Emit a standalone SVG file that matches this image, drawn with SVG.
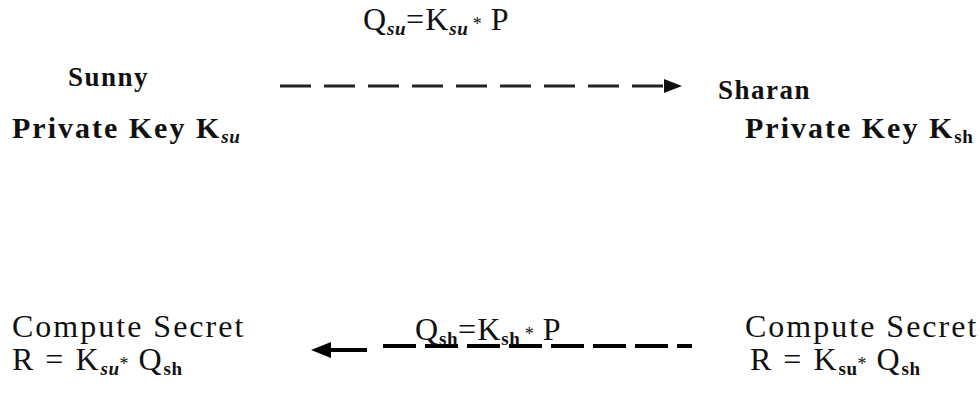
<svg xmlns="http://www.w3.org/2000/svg" width="980" height="403" viewBox="0 0 980 403">
<style>
text{font-family:"Liberation Serif","Times New Roman",serif;fill:#111}
.b{font-weight:bold}
.name{font-size:27px;font-weight:bold;letter-spacing:1.5px}
.lbl{font-size:30px;font-weight:bold;letter-spacing:2px}
.eq{font-size:32px;letter-spacing:1px}
.big{font-size:32px;letter-spacing:2px}
.sub{font-size:19px;font-weight:bold;letter-spacing:0.5px}
.st{font-size:18px;letter-spacing:0}
.it{font-style:italic}
.dash{fill:none;stroke:#222;stroke-width:3}
.dash2{fill:none;stroke:#000;stroke-width:4}
</style>
<rect width="980" height="403" fill="#fff"/>
<g id="sunny">
<text x="68" y="86" class="name">Sunny</text>
<text x="12" y="138" class="lbl">Private Key K<tspan class="sub it" dy="5">su</tspan></text>
</g>
<g id="sharan">
<text x="718" y="99" class="name">Sharan</text>
<text x="745" y="138" class="lbl">Private Key K<tspan class="sub" dy="5">sh</tspan></text>
</g>
<g id="sunny-compute">
<text x="12" y="337" class="big">Compute Secret</text>
<text x="12" y="370" class="big">R = K<tspan class="sub it" dy="5">su</tspan><tspan dy="-5" class="st">*</tspan> Q<tspan class="sub" dy="5">sh</tspan></text>
</g>
<g id="sharan-compute">
<text x="745" y="337" class="big">Compute Secret</text>
<text x="750" y="370" class="big">R = K<tspan class="sub" dy="5">su</tspan><tspan dy="-5" class="st">*</tspan> Q<tspan class="sub" dy="5">sh</tspan></text>
</g>
<g id="connectors">
<path class="dash" d="M280 86H666" stroke-dasharray="31 13"/>
<polygon points="664,79 682,86 664,93" fill="#111"/>
<text x="363" y="30" class="eq">Q<tspan class="sub it" dy="5">su</tspan><tspan dy="-5">=K</tspan><tspan class="sub it" dy="5">su</tspan><tspan dy="-5" class="st"> *</tspan> P</text>
<polygon points="311,350 331,342 331,358" fill="#000"/>
<path class="dash2" d="M329 350H367"/>
<path class="dash2" d="M383 346H692" stroke-dasharray="33 9"/>
<text x="415" y="340" class="eq">Q<tspan class="sub" dy="5">sh</tspan><tspan dy="-5">=K</tspan><tspan class="sub" dy="5">sh</tspan><tspan dy="-5" class="st"> *</tspan> P</text>
</g>
</svg>
